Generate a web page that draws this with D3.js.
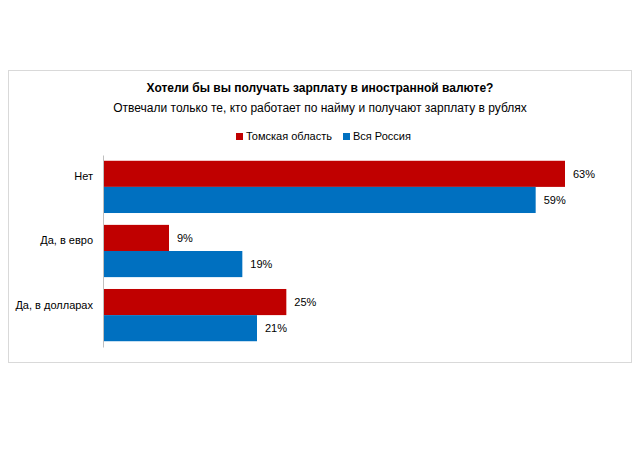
<!DOCTYPE html>
<html><head><meta charset="utf-8">
<script src="https://cdn.jsdelivr.net/npm/d3@7"></script>
<style>body{margin:0;background:#fff;font-family:"Liberation Sans",Arial,sans-serif}</style>
</head><body><svg id="c" width="637" height="464"></svg>
<script>
const categories = ["Нет", "Да, в евро", "Да, в долларах"];
const seriesNames = ["Томская область", "Вся Россия"];
const tomsk = [63, 9, 25];
const russia = [59, 19, 21];
const colors = ["#C00000", "#0070C0"];

const svg = d3.select("#c");
svg.append("rect").attr("x",8.5).attr("y",70.5).attr("width",623).attr("height",292)
  .attr("fill","#fff").attr("stroke","#d9d9d9");
svg.append("text").attr("x",320).attr("y",92).attr("text-anchor","middle")
  .attr("font-size",12).attr("font-weight","bold").text("Хотели бы вы получать зарплату в иностранной валюте?");
svg.append("text").attr("x",320).attr("y",112).attr("text-anchor","middle")
  .attr("font-size",12).text("Отвечали только те, кто работает по найму и получают зарплату в рублях");

const lg = svg.append("g").attr("font-size",11);
const lx = [236, 343];
seriesNames.forEach((n,i)=>{
  lg.append("rect").attr("x",lx[i]).attr("y",133).attr("width",7).attr("height",7).attr("fill",colors[i]);
  lg.append("text").attr("x",lx[i]+10).attr("y",140).text(n);
});

const x = d3.scaleLinear().domain([0,63]).range([103,565]);
const y = d3.scaleBand().domain(categories).range([155,347]).paddingInner(0.185).paddingOuter(0.09);
const sub = d3.scaleBand().domain([0,1]).range([0,y.bandwidth()]);
const data = [tomsk, russia];

data.forEach((vals,s)=>{
  svg.selectAll(null).data(vals).enter().append("rect")
    .attr("x",x(0)).attr("y",(d,i)=>y(categories[i])+sub(s))
    .attr("width",d=>x(d)-x(0)).attr("height",sub.bandwidth()).attr("fill",colors[s]);
  svg.selectAll(null).data(vals).enter().append("text")
    .attr("x",d=>x(d)+8).attr("y",(d,i)=>y(categories[i])+sub(s)+sub.bandwidth()/2+4)
    .attr("font-size",11).text(d=>d+"%");
});

const ax = svg.append("g").attr("transform",`translate(${x(0)},0)`)
  .call(d3.axisLeft(y).tickSize(0).tickPadding(10));
ax.select(".domain").attr("stroke","#bfbfbf");
ax.selectAll("text").attr("font-size",11).attr("font-family","Liberation Sans, Arial, sans-serif")
  .attr("dy","-0.6em");
</script></body></html>
